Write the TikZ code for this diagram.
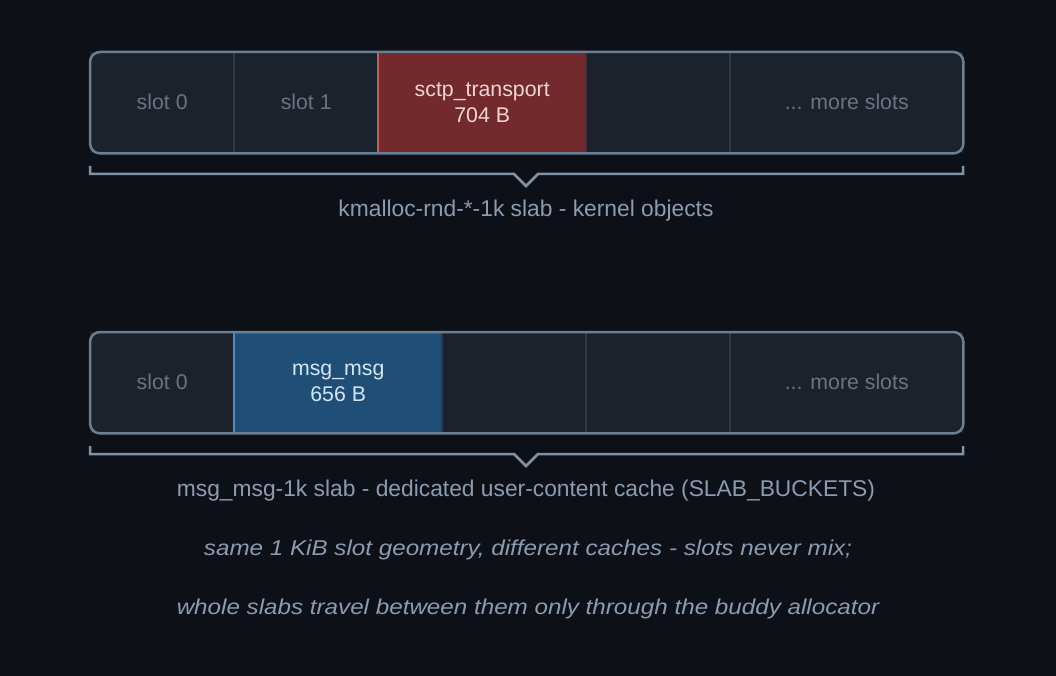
\documentclass[tikz,border=0pt]{standalone}
\usepackage{fontspec}
\setmainfont{Liberation Sans}
\definecolor{bg}{HTML}{0D1117}
\definecolor{slotfill}{HTML}{1C222C}
\definecolor{frame}{HTML}{6B7F94}
\definecolor{divider}{HTML}{2E3846}
\definecolor{slottext}{HTML}{6A7480}
\definecolor{labeltext}{HTML}{8B9BB0}
\definecolor{redfill}{HTML}{722A2C}
\definecolor{rededge}{HTML}{D05858}
\definecolor{redtext}{HTML}{F2D6D6}
\definecolor{bluefill}{HTML}{1F4F77}
\definecolor{blueedge}{HTML}{4C8EC8}
\definecolor{bluetext}{HTML}{D4E6F6}
\newcommand{\slotlbl}[1]{\raisebox{1.5pt}{#1}}
\tikzset{
  slotbox/.style={fill=slotfill, draw=none, minimum height=101pt, inner sep=0pt, anchor=north west, font=\fontsize{21.3}{26}\selectfont, text=slottext, align=center},
  redbox/.style={slotbox, fill=redfill, text=redtext},
  bluebox/.style={slotbox, fill=bluefill, text=bluetext},
  divline/.style={draw=divider, line width=1.5pt},
  framebox/.style={draw=frame, line width=2.5pt, rounded corners=10pt},
  bracestyle/.style={draw=frame!85!white, line width=2.5pt},
  caption/.style={text=labeltext, font=\fontsize{22.8}{26}\selectfont},
  note/.style={text=labeltext, font=\fontsize{21.5}{26}\selectfont\itshape}
}
\begin{document}
\begin{tikzpicture}[x=1pt,y=-1pt]
\fill[bg] (0,0) rectangle (1056,676);
\useasboundingbox (0,0) rectangle (1056,676);
% ---------- top slab ----------
\node[slotbox, minimum width=144pt] (a0) at (90,52) {\slotlbl{slot 0}};
\node[slotbox, minimum width=144pt] (a1) at (234,52) {\slotlbl{slot 1}};
\node[redbox, minimum width=208pt] (a2) at (378,52) {sctp\_transport\\704 B};
\node[slotbox, minimum width=144pt] (a3) at (586,52) {};
\node[slotbox, minimum width=233pt] (a4) at (730,52) {\slotlbl{... more slots}};
\draw[divline] (a1.north west) -- (a1.south west);
\draw[divline] (a3.north west) -- (a3.south west);
\draw[divline] (a4.north west) -- (a4.south west);
\draw[rededge, line width=2pt] (a2.north west) -- (a2.south west);
\draw[framebox] (a0.north west) rectangle (a4.south east);
% brace
\coordinate (bl) at (90,166);
\coordinate (br) at (963,166);
\draw[bracestyle] (bl) -- (90,174) -- (514,174) -- (526,186) -- (538,174) -- (963,174) -- (br);
\node[caption] (capA) at (526,210.5) {kmalloc-rnd-*-1k slab - kernel objects};
% ---------- bottom slab ----------
\node[slotbox, minimum width=144pt] (b0) at (90,332) {\slotlbl{slot 0}};
\node[bluebox, minimum width=208pt] (b1) at (234,332) {msg\_msg\\656 B};
\node[slotbox, minimum width=144pt] (b2) at (442,332) {};
\node[slotbox, minimum width=144pt] (b3) at (586,332) {};
\node[slotbox, minimum width=233pt] (b4) at (730,332) {\slotlbl{... more slots}};
\draw[divline] (b2.north west) -- (b2.south west);
\draw[divline] (b3.north west) -- (b3.south west);
\draw[divline] (b4.north west) -- (b4.south west);
\draw[blueedge, line width=2pt] (b1.north west) -- (b1.south west);
\draw[framebox] (b0.north west) rectangle (b4.south east);
\coordinate (cl) at (90,446);
\coordinate (cr) at (963,446);
\draw[bracestyle] (cl) -- (90,454) -- (514,454) -- (526,466) -- (538,454) -- (963,454) -- (cr);
\node[caption] (capB) at (526,490.5) {msg\_msg-1k slab - dedicated user-content cache (SLAB\_BUCKETS)};
% ---------- notes ----------
\node[note] (n1) at (528,550) {\scalebox{1.126}[1]{same 1 KiB slot geometry, different caches - slots never mix;}};
\node[note] (n2) at (528,609) {\scalebox{1.126}[1]{whole slabs travel between them only through the buddy allocator}};
\end{tikzpicture}
\end{document}
